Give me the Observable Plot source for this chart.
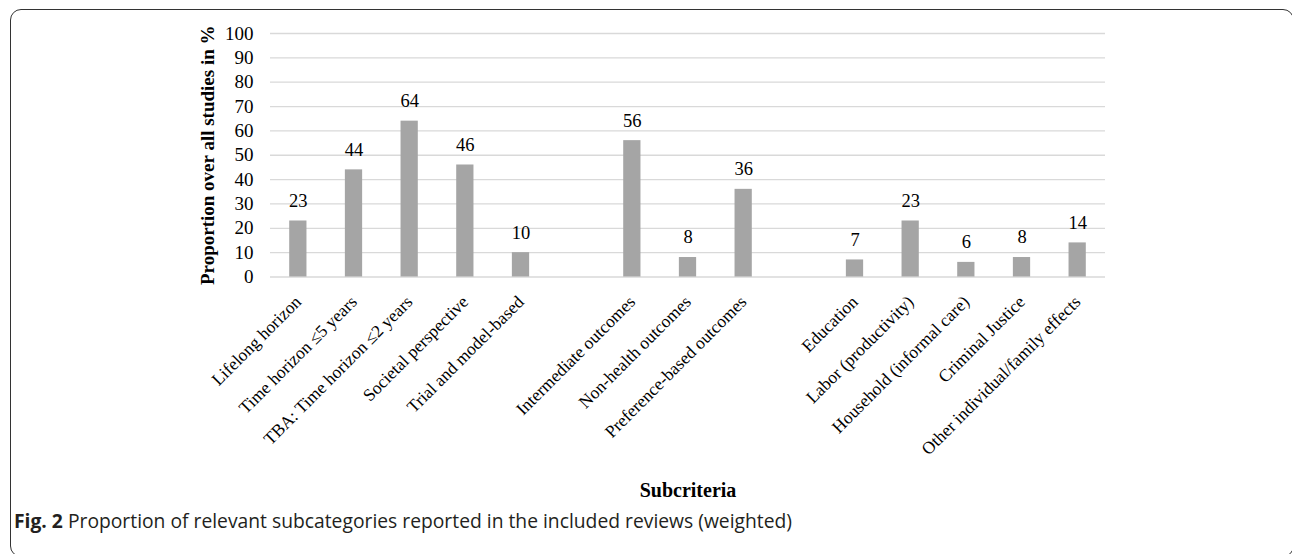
<!DOCTYPE html>
<html>
<head>
<meta charset="utf-8">
<script src="https://cdn.jsdelivr.net/npm/d3@7"></script>
<script src="https://cdn.jsdelivr.net/npm/@observablehq/plot@0.6"></script>
<style>
  html, body { margin: 0; padding: 0; background: #fff; }
  #wrap { position: relative; width: 1292px; height: 554px; overflow: hidden; background: #fff; }
  #frame { position: absolute; left: 10px; top: 9px; width: 1284px; height: 548px; border: 1.5px solid #333; border-radius: 11px; box-sizing: border-box; }
  #chart { position: absolute; left: 0; top: 0; }
  #caption { position: absolute; left: 14px; top: 507px; font-family: "Open Sans", "Noto Sans", sans-serif; font-size: 19.3px; color: #231f20; white-space: nowrap; }
  #caption b { font-weight: 700; }
</style>
</head>
<body>
<div id="wrap">
  <div id="frame"></div>
  <div id="chart"></div>
  <div id="caption"><b>Fig. 2</b> Proportion of relevant subcategories reported in the included reviews (weighted)</div>
</div>
<script>
const timeCats = ["Lifelong horizon", "Time horizon ≤5 years", "TBA: Time horizon ≤2 years", "Societal perspective", "Trial and model-based"];
const timeVals = [23, 44, 64, 46, 10];
const outcomeCats = ["Intermediate outcomes", "Non-health outcomes", "Preference-based outcomes"];
const outcomeVals = [56, 8, 36];
const sectorCats = ["Education", "Labor (productivity)", "Household (informal care)", "Criminal Justice", "Other individual/family effects"];
const sectorVals = [7, 23, 6, 8, 14];
const yTicks = [0, 10, 20, 30, 40, 50, 60, 70, 80, 90, 100];
const yTitle = "Proportion over all studies in %";
const xTitle = "Subcriteria";

const gapA = "\u2002gapA", gapB = "\u2002gapB";
const domain = [...timeCats, gapA, ...outcomeCats, gapB, ...sectorCats];
const allCats = [...timeCats, ...outcomeCats, ...sectorCats];
const data = [
  ...timeCats.map((c, i) => ({cat: c, value: timeVals[i]})),
  ...outcomeCats.map((c, i) => ({cat: c, value: outcomeVals[i]})),
  ...sectorCats.map((c, i) => ({cat: c, value: sectorVals[i]}))
];

const H = 510;
const chart = Plot.plot({
  width: 1292,
  height: H,
  marginLeft: 270,
  marginRight: 187,
  marginTop: 33,
  marginBottom: H - 276.5,
  x: {domain, paddingInner: 0.69, paddingOuter: 0.345, round: false, axis: null},
  y: {domain: [0, 100], axis: null},
  style: {fontFamily: "'Liberation Serif', 'Times New Roman', serif", fontSize: "18px", color: "#000", background: "transparent", overflow: "visible"},
  marks: [
    Plot.gridY(yTicks, {stroke: "#D9D9D9", strokeOpacity: 1, strokeWidth: 1.3}),
    Plot.axisY(yTicks, {tickSize: 0, tickPadding: 17, label: null, fontSize: 19}),
    Plot.axisX(allCats, {tickSize: 0, tickRotate: -45, tickPadding: 22, label: null, fontSize: 17.5}),
    Plot.barY(data, {x: "cat", y: "value", fill: "#A5A5A5"}),
    Plot.text(data, {x: "cat", y: "value", text: d => String(d.value), dy: -20, fontSize: 18.5, fill: "#000"}),
    Plot.text([yTitle], {frameAnchor: "left", textAnchor: "middle", dx: -63, rotate: -90, fontWeight: "bold", fontSize: 19, fill: "#000"}),
    Plot.text([xTitle], {frameAnchor: "bottom", dy: 219.5, fontWeight: "bold", fontSize: 20, fill: "#000"})
  ]
});
document.getElementById("chart").appendChild(chart);
</script>
</body>
</html>
